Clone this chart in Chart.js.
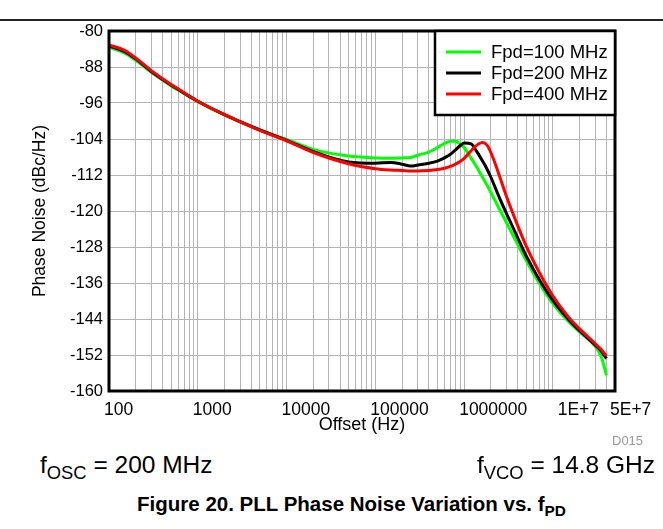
<!DOCTYPE html>
<html>
<head>
<meta charset="utf-8">
<script src="https://cdn.jsdelivr.net/npm/chart.js@4.4.1/dist/chart.umd.min.js"></script>
<style>
  body { margin: 0; background: #fff; font-family: "Liberation Sans", Arial, sans-serif; }
  #page { position: relative; width: 663px; height: 529px; overflow: hidden; }
  #rule { position: absolute; left: 0; top: 19px; width: 663px; height: 2px; background: #222; }
  #wrap { position: absolute; left: 0; top: 0; width: 663px; height: 450px; }
  .note { position: absolute; font-size: 24.5px; color: #000; white-space: nowrap; }
  .note sub { font-size: 0.75em; vertical-align: -0.3em; line-height: 0; }
  #code { position: absolute; left: 612px; top: 433px; font-size: 13px; color: #999; }
  #caption { position: absolute; left: 0; top: 492px; width: 703px; text-align: center; font-size: 20.5px; font-weight: bold; }
  #caption sub { font-size: 0.75em; vertical-align: -0.3em; line-height: 0; }
</style>
</head>
<body>
<div id="page">
  <div id="rule"></div>
  <div id="wrap"><canvas id="chart" width="663" height="450"></canvas></div>
  <div id="code">D015</div>
  <div class="note" style="left:40px; top:451px;">f<sub>OSC</sub> = 200 MHz</div>
  <div class="note" style="right:8px; top:451px;">f<sub>VCO</sub> = 14.8 GHz</div>
  <div id="caption">Figure 20. PLL Phase Noise Variation vs. f<sub>PD</sub></div>
</div>
<script>
// offset frequencies (Hz)
const freqs = [100, 150, 200, 300, 500, 700, 1e3, 2e3, 5e3, 1e4, 2e4, 5e4,
  1e5, 1.5e5, 2e5, 2.5e5, 3e5, 4e5, 5e5, 6e5, 7e5, 8e5, 9e5,
  1e6, 1.2e6, 1.4e6, 1.6e6, 1.8e6, 2e6, 2.5e6, 3e6, 4e6, 5e6, 7e6,
  1e7, 1.5e7, 2e7, 3e7, 3.5e7, 4e7];

// phase noise (dBc/Hz)
const fpd100 = [-83.6, -84.9, -86.5, -89.2, -92.2, -93.9, -95.7, -98.7, -102.0, -104.1, -106.3, -107.8,
  -108.2, -108.3, -108.2, -108.1, -107.6, -106.9, -105.9, -105.0, -104.5, -104.5, -105.1,
  -105.9, -108.3, -110.4, -112.4, -114.2, -115.9, -119.6, -122.6, -127.4, -131.0, -136.0,
  -140.6, -144.6, -146.9, -150.1, -152.4, -156.5];
const fpd200 = [-83.3, -84.6, -86.2, -89.0, -92.0, -93.8, -95.6, -98.6, -102.0, -104.3, -106.8, -109.1,
  -109.4, -109.2, -109.6, -110.0, -109.8, -109.4, -108.9, -108.2, -107.4, -106.4, -105.5,
  -104.9, -105.1, -106.9, -108.8, -110.6, -112.5, -117.1, -120.6, -125.9, -130.0, -135.2,
  -139.9, -144.1, -146.6, -149.8, -151.1, -152.8];
const fpd400 = [-83.1, -84.3, -86.0, -88.8, -91.9, -93.7, -95.6, -98.6, -102.1, -104.4, -107.0, -109.5,
  -110.6, -110.9, -111.0, -111.1, -111.1, -111.0, -110.8, -110.5, -110.1, -109.6, -109.0,
  -108.3, -106.6, -105.3, -104.8, -105.3, -107.0, -112.2, -116.8, -123.2, -127.8, -133.6,
  -138.9, -143.6, -146.2, -149.5, -150.8, -152.2];

const seriesNames = ["Fpd=100 MHz", "Fpd=200 MHz", "Fpd=400 MHz"];
const seriesColors = ["#00ff00", "#000000", "#ff0000"];

const xLabelValues = [100, 1e3, 1e4, 1e5, 1e6, 1e7, 5e7];
const xLabelText = ["100", "1000", "10000", "100000", "1000000", "1E+7", "5E+7"];

const toPoints = (ys) => ys.map((y, i) => ({ x: freqs[i], y }));

// grid lines at 1..9 of every decade, up to 5E+7
const gridValues = [];
for (let d = 100; d <= 1e7; d *= 10) {
  for (let m = 1; m <= 9; m++) {
    if (m * d <= 5e7) gridValues.push(m * d);
  }
}

const FONT = "'Liberation Sans', Arial, sans-serif";

const frameAndLegend = {
  id: "frameAndLegend",
  afterDraw(chart) {
    const { ctx, chartArea: a } = chart;
    ctx.save();
    // plot frame
    ctx.strokeStyle = "#000";
    ctx.lineWidth = 3;
    ctx.strokeRect(a.left, a.top, a.right - a.left, a.bottom - a.top);

    // legend box in top-right corner
    const bx = a.right - 180, by = a.top, bw = 180, bh = 84;
    ctx.fillStyle = "#fff";
    ctx.fillRect(bx, by, bw, bh);
    ctx.lineWidth = 2.5;
    ctx.strokeRect(bx, by, bw, bh);
    ctx.font = "18.5px " + FONT;
    ctx.textBaseline = "middle";
    ctx.textAlign = "left";
    chart.data.datasets.forEach((ds, i) => {
      const y = by + 21 + i * 21;
      ctx.strokeStyle = ds.borderColor;
      ctx.lineWidth = 3;
      ctx.beginPath();
      ctx.moveTo(bx + 11, y);
      ctx.lineTo(bx + 46, y);
      ctx.stroke();
      ctx.fillStyle = "#000";
      ctx.fillText(ds.label, bx + 56, y + 1);
    });
    ctx.restore();
  },
};

new Chart(document.getElementById("chart"), {
  type: "line",
  data: {
    datasets: [
      { label: seriesNames[0], data: toPoints(fpd100), borderColor: seriesColors[0], order: 3 },
      { label: seriesNames[1], data: toPoints(fpd200), borderColor: seriesColors[1], order: 2 },
      { label: seriesNames[2], data: toPoints(fpd400), borderColor: seriesColors[2], order: 1 },
    ],
  },
  options: {
    responsive: false,
    animation: false,
    devicePixelRatio: 1,
    layout: { padding: { left: 0, top: 31, right: 48, bottom: 0 } },
    elements: {
      point: { radius: 0 },
      line: { borderWidth: 3, cubicInterpolationMode: "monotone", fill: false },
    },
    plugins: { legend: { display: false }, tooltip: { enabled: false } },
    scales: {
      x: {
        type: "logarithmic",
        min: 100,
        max: 5e7,
        afterBuildTicks: (scale) => {
          scale.ticks = gridValues.map((v) => ({ value: v }));
        },
        afterFit: (scale) => {
          scale.height = 59;
          scale.paddingLeft = scale.paddingRight = 0;
        },
        grid: { color: "#b4b4b4", lineWidth: 1, drawTicks: false },
        border: { display: false },
        ticks: {
          autoSkip: false,
          maxRotation: 0,
          minRotation: 0,
          align: "start",
          labelOffset: -5,
          padding: 9,
          color: "#000",
          font: { family: FONT, size: 17.5 },
          callback: (value) => {
            const i = xLabelValues.indexOf(value);
            if (i < 0) return "";
            // the 1E+7 label sits a little right of its grid line in the original
            return value === 1e7 ? "  " + xLabelText[i] : xLabelText[i];
          },
        },
        title: {
          display: true,
          text: "Offset (Hz)",
          color: "#000",
          font: { family: FONT, size: 18 },
          padding: { top: 0, bottom: 14 },
        },
      },
      y: {
        min: -160,
        max: -80,
        afterFit: (scale) => {
          scale.width = 109;
          scale.paddingTop = scale.paddingBottom = 0;
        },
        grid: { color: "#b4b4b4", lineWidth: 1, drawTicks: false },
        border: { display: false },
        ticks: {
          stepSize: 4,
          padding: 6,
          color: "#000",
          font: { family: FONT, size: 16.5 },
          callback: (value) => ((value + 160) % 8 === 0 ? String(value) : ""),
        },
        title: {
          display: true,
          text: "Phase Noise (dBc/Hz)",
          color: "#000",
          font: { family: FONT, size: 17.5 },
          padding: { top: 30, bottom: 0 },
        },
      },
    },
  },
  plugins: [frameAndLegend],
});
</script>
</body>
</html>
